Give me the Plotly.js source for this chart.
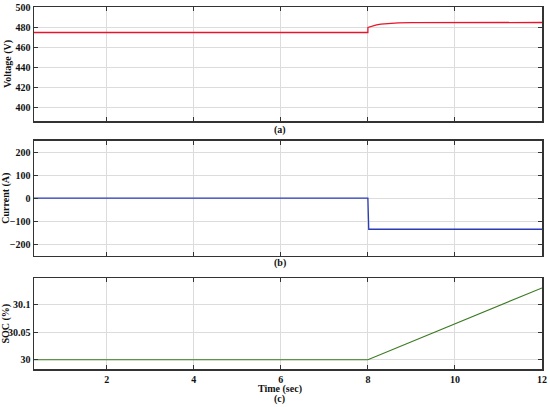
<!DOCTYPE html>
<html><head><meta charset="utf-8">
<script src="https://cdn.plot.ly/plotly-3.0.1.min.js"></script>
<style>html,body{margin:0;padding:0;background:#fff}#chart{width:550px;height:407px}</style>
</head><body><div id="chart"></div>
<script>
// Voltage (a)
const tVolt = [0.33, 8.0, 8.001, 8.05, 8.1, 8.2, 8.3, 8.4, 8.5, 8.7, 9.0, 9.5, 10, 12];
const volt  = [474.5, 474.5, 479.6, 480.4, 481.1, 482.1, 482.8, 483.3, 483.7, 484.1, 484.4, 484.5, 484.5, 484.5];
// Current (b)
const tCurr = [0.33, 8.0, 8.02, 12];
const curr  = [0, 0, -135, -135];
// SOC (c)
const tSoc = [0.33, 8.0, 12];
const soc  = [30.0, 30.0, 30.131];

const xTicks = [2, 4, 6, 8, 10, 12];
const vTicks = [400, 420, 440, 460, 480, 500];
const iTicks = [-200, -100, 0, 100, 200];
const sTicks = [30, 30.05, 30.1];
const sTickText = ['30', '30.05', '30.1'];

const F = {family: 'Liberation Serif, Times New Roman, serif', size: 10, color: '#111', weight: 700};
const grid = '#dcdcdc';
function xa(anchor, showLabels) {
  return {anchor: anchor, range: [0.33, 12], tickvals: xTicks, ticks: 'inside', ticklen: 4,
    tickcolor: '#333', mirror: 'ticks', showline: true, linecolor: '#333', linewidth: 1.5,
    showgrid: true, gridcolor: grid, zeroline: false, showticklabels: showLabels, tickfont: F,
    matches: anchor === 'y' ? undefined : 'x'};
}
function ya(domain, anchor, range, tickvals, ticktext, title) {
  const o = {domain: domain, anchor: anchor, range: range, tickvals: tickvals, ticks: 'inside', ticklen: 4,
    tickcolor: '#333', mirror: 'ticks', showline: true, linecolor: '#333', linewidth: 1.5,
    showgrid: true, gridcolor: grid, zeroline: false, tickfont: F,
    title: {text: title, font: F, standoff: 2}};
  if (ticktext) o.ticktext = ticktext;
  return o;
}
const data = [
  {x: tVolt, y: volt, xaxis: 'x', yaxis: 'y', mode: 'lines', line: {color: '#e8142c', width: 1.3}},
  {x: tCurr, y: curr, xaxis: 'x2', yaxis: 'y2', mode: 'lines', line: {color: '#2b3cb8', width: 1.3}},
  {x: tSoc, y: soc, xaxis: 'x3', yaxis: 'y3', mode: 'lines', line: {color: '#3b7a1f', width: 1.1}}
];
const layout = {
  width: 550, height: 407, showlegend: false,
  paper_bgcolor: '#fff', plot_bgcolor: '#fff',
  margin: {l: 34, r: 8, t: 7, b: 38},
  font: F,
  xaxis: xa('y', false),
  xaxis2: xa('y2', false),
  xaxis3: xa('y3', true),
  yaxis: ya([0.685, 1], 'x', [386, 500], vTicks, null, 'Voltage (V)'),
  yaxis2: ya([0.313, 0.6307], 'x2', [-250, 250], iTicks, null, 'Current (A)'),
  yaxis3: ya([0, 0.2505], 'x3', [29.983, 30.1485], sTicks, sTickText, 'SOC (%)'),
  annotations: [
    {text: '(a)', xref: 'paper', yref: 'paper', x: 0.484, y: 0.659, showarrow: false, font: F, xanchor: 'center', yanchor: 'middle'},
    {text: '(b)', xref: 'paper', yref: 'paper', x: 0.484, y: 0.293, showarrow: false, font: F, xanchor: 'center', yanchor: 'middle'},
    {text: 'Time (sec)', xref: 'paper', yref: 'paper', x: 0.484, y: -0.055, showarrow: false, font: F, xanchor: 'center', yanchor: 'middle'},
    {text: '(c)', xref: 'paper', yref: 'paper', x: 0.484, y: -0.083, showarrow: false, font: F, xanchor: 'center', yanchor: 'middle'}
  ]
};
Plotly.newPlot('chart', data, layout, {displayModeBar: false, staticPlot: true});
</script></body></html>
